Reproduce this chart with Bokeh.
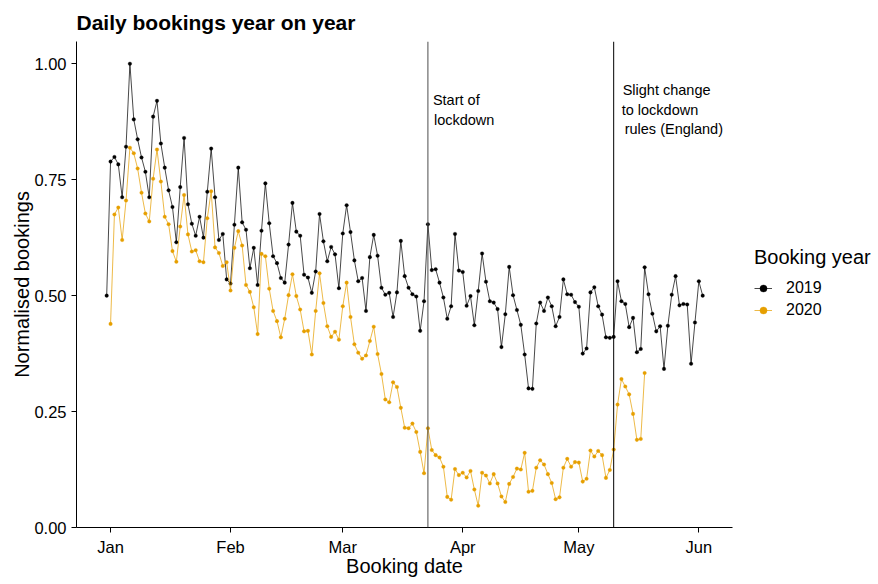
import pandas as pd
from bokeh.plotting import figure
from bokeh.layouts import row
from bokeh.models import Range1d, Span, Label, Legend, LegendItem, FixedTicker, NumeralTickFormatter
from bokeh.embed import file_html
from bokeh.resources import INLINE

# ---- data ----
# 2019 bookings, aligned to 2020 weekdays (first day shown as 31 Dec)
bookings_2019 = [
    0.500, 0.789, 0.799, 0.783, 0.712, 0.821, 1.000, 0.880, 0.837, 0.798,
    0.767, 0.712, 0.886, 0.920, 0.828, 0.776, 0.727, 0.691, 0.615, 0.734,
    0.840, 0.697, 0.655, 0.629, 0.670, 0.625, 0.724, 0.817, 0.712, 0.620,
    0.633, 0.535, 0.526, 0.653, 0.776, 0.658, 0.642, 0.559, 0.603,
    0.523, 0.640, 0.742, 0.656, 0.585, 0.570, 0.538, 0.528, 0.610, 0.700,
    0.638, 0.629, 0.545, 0.539, 0.506, 0.552, 0.676, 0.617, 0.574, 0.605,
    0.589, 0.516, 0.634, 0.695, 0.637, 0.576, 0.531, 0.538, 0.467, 0.583,
    0.631, 0.586, 0.517, 0.502, 0.506, 0.454, 0.507, 0.618, 0.542, 0.517,
    0.503, 0.498, 0.424, 0.488, 0.654, 0.555, 0.557, 0.528,
    0.496, 0.450, 0.477, 0.633, 0.554, 0.551, 0.478, 0.499, 0.436, 0.510,
    0.591, 0.530, 0.488, 0.485, 0.471, 0.389, 0.460, 0.562, 0.501, 0.469,
    0.437, 0.373, 0.300, 0.299, 0.440, 0.485, 0.467, 0.496, 0.477, 0.434,
    0.454, 0.535, 0.503, 0.502, 0.486, 0.476, 0.375, 0.386, 0.507, 0.518,
    0.477, 0.459, 0.410, 0.409, 0.411, 0.531,
    0.488, 0.482, 0.432, 0.452, 0.378, 0.385, 0.561, 0.503, 0.461, 0.423,
    0.434, 0.342, 0.435, 0.502, 0.542, 0.479, 0.482, 0.481, 0.353, 0.442,
    0.531, 0.500,
]
bookings_2020 = [
    0.439, 0.675, 0.690, 0.620, 0.705, 0.819, 0.807, 0.774, 0.722, 0.677,
    0.660, 0.752, 0.815, 0.746, 0.670, 0.654, 0.596, 0.573, 0.649, 0.717,
    0.632, 0.595, 0.598, 0.574, 0.572, 0.667, 0.725, 0.604, 0.592, 0.564,
    0.572, 0.511, 0.603, 0.639, 0.608, 0.523, 0.508, 0.475,
    0.417, 0.590, 0.585, 0.515, 0.467, 0.445, 0.410, 0.450, 0.501, 0.546,
    0.499, 0.470, 0.423, 0.424, 0.373, 0.467, 0.548, 0.484, 0.434, 0.411,
    0.422, 0.405, 0.477, 0.528, 0.454, 0.395, 0.377, 0.364, 0.371, 0.402,
    0.433, 0.374,
    0.331, 0.276, 0.270, 0.313, 0.303, 0.258, 0.215, 0.214, 0.224, 0.206,
    0.163, 0.117, 0.214, 0.167, 0.156, 0.151, 0.131, 0.066, 0.060, 0.126,
    0.113, 0.118, 0.108, 0.122, 0.082, 0.047, 0.118, 0.112, 0.095, 0.115,
    0.095, 0.067, 0.055,
    0.094, 0.109, 0.127, 0.125, 0.161, 0.077, 0.079, 0.129, 0.145, 0.136,
    0.115, 0.096, 0.061, 0.065, 0.129, 0.148, 0.131, 0.141, 0.140, 0.099,
    0.105, 0.166, 0.153, 0.165, 0.156, 0.107, 0.124, 0.168, 0.265, 0.320,
    0.304, 0.287, 0.245, 0.189, 0.191, 0.333,
]
start_2019 = "2019-12-31"
start_2020 = "2020-01-01"
series_names = ["2019", "2020"]
series_colors = ["#000000", "#E69F00"]

event_dates = ["2020-03-23", "2020-05-10"]
event_texts = [["Start of", "lockdown"],
               ["Slight change", "to lockdown", "rules (England)"]]

month_starts = ["2020-01-01", "2020-02-01", "2020-03-01", "2020-04-01", "2020-05-01", "2020-06-01"]
month_labels = ["Jan", "Feb", "Mar", "Apr", "May", "Jun"]
y_ticks = [0.0, 0.25, 0.5, 0.75, 1.0]

# ---- helpers ----
origin = pd.Timestamp("2020-01-01")
def day_offsets(start, n):
    return [int((d - origin).days) for d in pd.date_range(start, periods=n, freq="D")]

x19 = day_offsets(start_2019, len(bookings_2019))
x20 = day_offsets(start_2020, len(bookings_2020))
tick_x = [int((pd.Timestamp(m) - origin).days) for m in month_starts]
event_x = [int((pd.Timestamp(d) - origin).days) for d in event_dates]
series = [(series_names[0], x19, bookings_2019, series_colors[0]),
          (series_names[1], x20, bookings_2020, series_colors[1])]

FONT = "Liberation Sans"
LINE_W = 0.8
PT_SIZE = 3.6
TOP, BOTTOM, FRAME_H = 40, 46, 486

p = figure(frame_width=656, frame_height=FRAME_H, output_backend="svg", toolbar_location=None,
           x_range=Range1d(-8.8, 160.7), y_range=Range1d(0, 1.048),
           min_border_left=76, min_border_right=4, min_border_top=TOP, min_border_bottom=BOTTOM)
p.outline_line_color = None
p.xgrid.visible = False
p.ygrid.visible = False
p.background_fill_color = "white"

p.title.text = "Daily bookings year on year"
p.title.text_font = FONT
p.title.text_font_size = "21px"
p.title.text_font_style = "bold"
p.title.text_color = "black"
p.title.align = "left"
p.title.standoff = 16

for ax in (p.xaxis[0], p.yaxis[0]):
    ax.axis_line_color = "black"
    ax.axis_line_width = 1
    ax.major_tick_line_color = "black"
    ax.major_tick_out = 5
    ax.major_tick_in = 0
    ax.minor_tick_line_color = None
    ax.major_label_text_font = FONT
    ax.major_label_text_font_size = "16.5px"
    ax.major_label_text_color = "black"
    ax.major_label_standoff = 5
    ax.axis_label_text_font = FONT
    ax.axis_label_text_font_size = "20px"
    ax.axis_label_text_font_style = "normal"
    ax.axis_label_text_color = "black"

p.xaxis.axis_label = "Booking date"
p.xaxis.axis_label_standoff = -4
p.xaxis.ticker = FixedTicker(ticks=tick_x)
p.xaxis.major_label_overrides = {t: l for t, l in zip(tick_x, month_labels)}

p.yaxis.axis_label = "Normalised bookings"
p.yaxis.axis_label_standoff = -2
p.yaxis.ticker = FixedTicker(ticks=y_ticks)
p.yaxis.formatter = NumeralTickFormatter(format="0.00")

# event lines
span_colors = ["#4d4d4d", "#000000"]
for ex, sc in zip(event_x, span_colors):
    p.add_layout(Span(location=ex, dimension="height", line_color=sc, line_width=1))

# series
for name, xs, ys, col in series:
    p.line(xs, ys, line_color=col, line_width=LINE_W, line_alpha=0.9)
    p.scatter(xs, ys, marker="circle", size=PT_SIZE, fill_color=col, line_color=col, line_width=0.3)

# annotations
line_y = [[0.922, 0.879], [0.944, 0.901, 0.860]]
x_offs = [[5, 6], [9, 8, 11]]
for ex, texts, ys, offs in zip(event_x, event_texts, line_y, x_offs):
    for t, yy, xo in zip(texts, ys, offs):
        p.add_layout(Label(x=ex, y=yy, x_offset=xo, text=t, text_font=FONT,
                           text_font_size="14.5px", text_baseline="middle",
                           text_align="left", text_color="black"))

# ---- legend panel: small figure to the right (its series copies sit outside its view) ----
lg = figure(frame_width=124, frame_height=FRAME_H, output_backend="svg", toolbar_location=None,
            x_range=Range1d(-1000, -999), y_range=Range1d(-1000, -999),
            x_axis_location=None, y_axis_location=None,
            min_border_left=18, min_border_right=0, min_border_top=TOP, min_border_bottom=BOTTOM)
lg.outline_line_color = None
lg.xgrid.visible = False
lg.ygrid.visible = False
items = []
for name, xs, ys, col in series:
    l = lg.line(xs, ys, line_color=col, line_width=LINE_W, line_alpha=0.9)
    s = lg.scatter(xs, ys, marker="circle", size=PT_SIZE - 0.6, fill_color=col, line_color=col, line_width=0.3)
    items.append(LegendItem(label=name, renderers=[l, s]))

legend = Legend(items=items, title="Booking year", location=(0, 207))
legend.title_text_font = FONT
legend.title_text_font_size = "20px"
legend.title_text_font_style = "normal"
legend.title_text_color = "black"
legend.title_standoff = 9
legend.label_text_font = FONT
legend.label_text_font_size = "16px"
legend.label_text_color = "black"
legend.glyph_width = 18
legend.glyph_height = 20
legend.label_height = 20
legend.label_standoff = 14
legend.spacing = 2
legend.padding = 0
legend.margin = 0
legend.border_line_alpha = 0
legend.background_fill_alpha = 0
lg.add_layout(legend, "center")

layout = row(p, lg)
open("out.html", "w").write(file_html(layout, INLINE))
